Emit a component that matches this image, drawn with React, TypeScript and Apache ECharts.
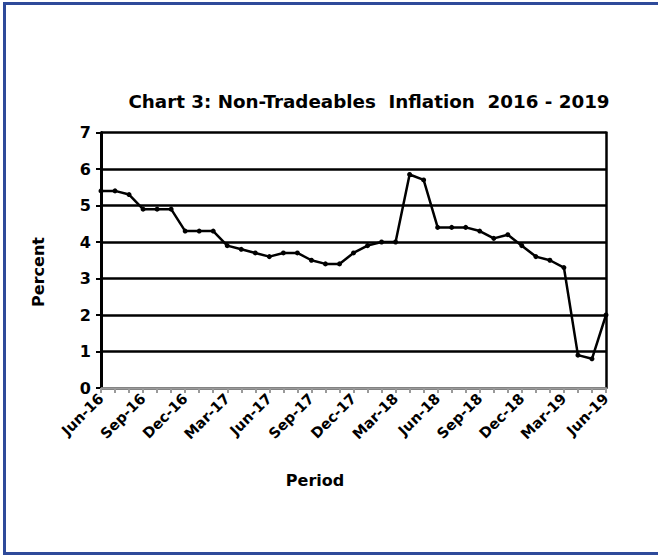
import React, { useEffect, useRef } from "react";
import * as echarts from "echarts";

const categories = [
  "Jun-16", "Jul-16", "Aug-16", "Sep-16", "Oct-16", "Nov-16", "Dec-16",
  "Jan-17", "Feb-17", "Mar-17", "Apr-17", "May-17", "Jun-17", "Jul-17",
  "Aug-17", "Sep-17", "Oct-17", "Nov-17", "Dec-17", "Jan-18", "Feb-18",
  "Mar-18", "Apr-18", "May-18", "Jun-18", "Jul-18", "Aug-18", "Sep-18",
  "Oct-18", "Nov-18", "Dec-18", "Jan-19", "Feb-19", "Mar-19", "Apr-19",
  "May-19", "Jun-19",
];

const inflation = [
  5.4, 5.4, 5.3, 4.9, 4.9, 4.9, 4.3, 4.3, 4.3, 3.9, 3.8, 3.7, 3.6, 3.7,
  3.7, 3.5, 3.4, 3.4, 3.7, 3.9, 4.0, 4.0, 5.85, 5.7, 4.4, 4.4, 4.4, 4.3,
  4.1, 4.2, 3.9, 3.6, 3.5, 3.3, 0.9, 0.8, 2.0,
];

const yTicks = { min: 0, max: 7, interval: 1 };

const FONT = "DejaVu Sans";

export default function App() {
  const ref = useRef<HTMLDivElement>(null);
  useEffect(() => {
    if (!ref.current) return;
    const chart = echarts.init(ref.current, null, { renderer: "svg" });
    chart.setOption({
      animation: false,
      backgroundColor: "#ffffff",
      title: {
        text: "Chart 3: Non-Tradeables  Inflation  2016 - 2019",
        left: 364,
        top: 87,
        textAlign: "center",
        textStyle: { fontFamily: FONT, fontWeight: "bold", fontSize: 18.3, color: "#000" },
      },
      graphic: [
        {
          type: "rect",
          shape: { x: 4.5, y: 3.5, width: 700, height: 550 },
          style: { fill: "none", stroke: "#2E4A9A", lineWidth: 3 },
          silent: true,
        },
        {
          type: "text",
          x: 38.5,
          y: 272,
          rotation: Math.PI / 2,
          style: {
            text: "Percent",
            fontFamily: FONT,
            fontWeight: "bold",
            fontSize: 16,
            fill: "#000",
            align: "center",
            verticalAlign: "middle",
          },
          silent: true,
        },
        {
          type: "text",
          x: 315,
          y: 480,
          style: {
            text: "Period",
            fontFamily: FONT,
            fontWeight: "bold",
            fontSize: 16,
            fill: "#000",
            align: "center",
            verticalAlign: "middle",
          },
          silent: true,
        },
      ],
      grid: {
        left: 101,
        right: 52,
        top: 132.5,
        bottom: 168,
      },
      xAxis: {
        type: "category",
        data: categories,
        boundaryGap: false,
        axisLine: { show: true, lineStyle: { color: "#9a9a9a", width: 2.5 } },
        axisTick: { show: true, interval: 0, length: 5, lineStyle: { color: "#9a9a9a", width: 2 } },
        axisLabel: {
          interval: 2,
          rotate: 45,
          margin: 8,
          fontFamily: FONT,
          fontWeight: "bold",
          fontSize: 14.5,
          color: "#000",
        },
        splitLine: { show: false },
      },
      yAxis: [
        {
          type: "value",
          min: yTicks.min,
          max: yTicks.max,
          interval: yTicks.interval,
          axisLine: { show: true, lineStyle: { color: "#000", width: 3 } },
          axisTick: { show: true, length: 5, lineStyle: { color: "#000", width: 2 } },
          axisLabel: { fontFamily: FONT, fontWeight: "bold", fontSize: 16, color: "#000", margin: 10 },
          splitLine: { show: true, lineStyle: { color: "#000", width: 2.5 } },
        },
        {
          type: "value",
          position: "right",
          min: yTicks.min,
          max: yTicks.max,
          interval: yTicks.interval,
          axisLine: { show: true, lineStyle: { color: "#000", width: 2.5 } },
          axisTick: { show: false },
          axisLabel: { show: false },
          splitLine: { show: false },
        },
      ],
      series: [
        {
          type: "line",
          data: inflation,
          symbol: "circle",
          symbolSize: 5,
          itemStyle: { color: "#000" },
          lineStyle: { color: "#000", width: 2.5 },
          z: 5,
        },
      ],
    });
    return () => chart.dispose();
  }, []);
  return (
    <div
      ref={ref}
      style={{ position: "fixed", left: 0, top: 0, width: 658, height: 556 }}
    />
  );
}
